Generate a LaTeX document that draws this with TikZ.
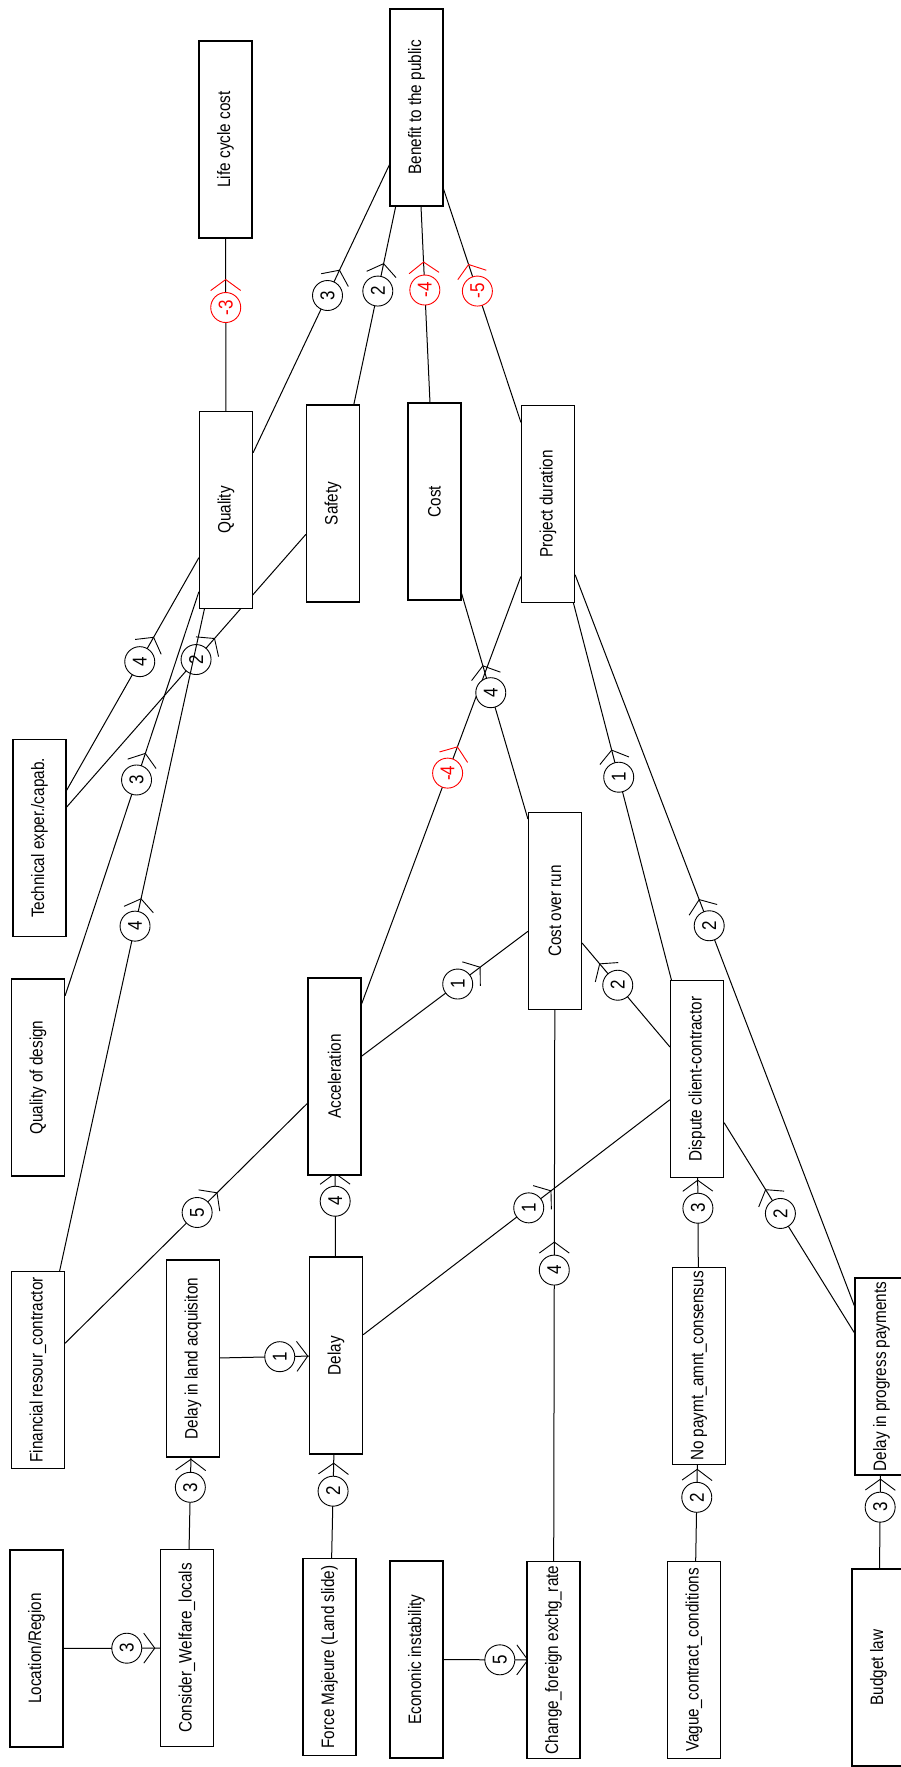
\documentclass[tikz,border=0pt]{standalone}
\usepackage{fontspec}
\newfontfamily\diagfont[FakeStretch=0.85]{Liberation Sans}
\usetikzlibrary{decorations.markings,backgrounds}

\begin{document}
\begin{tikzpicture}[x=1pt,y=-1pt,font=\diagfont\fontsize{18}{21}\selectfont,
  box/.style={draw,line width=1.2pt,fill=white,rotate=90,minimum width=197,minimum height=53,inner sep=0pt},
  num/.style={circle,draw=#1,text=#1,fill=white,line width=0.9pt,rotate=90,minimum size=30,inner sep=0pt,
    font=\diagfont\fontsize{20}{22}\selectfont},
  num/.default=black,
  link/.style n args={3}{line width=1pt,postaction={decorate,decoration={markings,
      mark=at position #1 with {\node[num=#3] {#2}; \draw[#3,line width=0.9pt] (17,15) -- (28,0) -- (17,-15);}}}}]
  \useasboundingbox (0,0) rectangle (901,1767);
  \clip (0,0) rectangle (901,1767);
  \node[box] (lcc) at (225.5,139.5) {Life cycle cost};
  \node[box] (benefit) at (416.5,107.5) {Benefit to the public};
  \node[box] (quality) at (226,510) {Quality};
  \node[box] (safety) at (333,503.5) {Safety};
  \node[box] (cost) at (434.5,501.5) {Cost};
  \node[box] (duration) at (548,504) {Project duration};
  \node[box] (overrun) at (555,911) {Cost over run};
  \node[box] (dispute) at (697,1079) {Dispute client-contractor};
  \node[box] (tech) at (39.5,838) {Technical exper./capab.};
  \node[box] (design) at (38,1077.5) {Quality of design};
  \node[box] (accel) at (334.5,1076.5) {Acceleration};
  \node[box] (finance) at (38,1370) {Financial resour\_contractor};
  \node[box] (land) at (193,1358.5) {Delay in land acquisiton};
  \node[box] (delay) at (336,1355.5) {Delay};
  \node[box] (region) at (36.5,1648.5) {Location/Region};
  \node[box] (welfare) at (187,1648) {Consider\_Welfare\_locals};
  \node[box] (force) at (329.5,1657) {Force Majeure (Land slide)};
  \node[box] (econ) at (416.5,1659.5) {Econonic instability};
  \node[box] (forex) at (553.5,1660) {Change\_foreign exchg\_rate};
  \node[box] (vague) at (694,1660) {Vague\_contract\_conditions};
  \node[box] (nopay) at (699,1366) {No paymt\_amnt\_consensus};
  \node[box] (progress) at (881.5,1376.5) {Delay in progress payments};
  \node[box] (budget) at (878.5,1667.5) {Budget law};
  \begin{scope}[on background layer]
  \draw[link={0.60}{-3}{red}] (quality) -- (lcc);
  \draw[link={0.546}{3}{black}] (quality) -- (benefit);
  \draw[link={0.573}{2}{black}] (safety) -- (benefit);
  \draw[link={0.574}{-4}{red}] (cost) -- (benefit);
  \draw[link={0.563}{-5}{red}] (duration) -- (benefit);
  \draw[link={0.553}{4}{black}] (tech) -- (quality);
  \draw[link={0.541}{2}{black}] (tech) -- (safety);
  \draw[link={0.534}{3}{black}] (design) -- (quality);
  \draw[link={0.521}{4}{black}] (finance) -- (quality);
  \draw[link={0.545}{5}{black}] (finance) -- (accel);
  \draw[link={0.683}{4}{black}] (delay) -- (accel);
  \draw[link={0.54}{-4}{red}] (accel) -- (duration);
  \draw[link={0.578}{1}{black}] (accel) -- (overrun);
  \draw[link={0.56}{4}{black}] (overrun) -- (cost);
  \draw[link={0.594}{2}{black}] (dispute) -- (overrun);
  \draw[link={0.538}{1}{black}] (dispute) -- (duration);
  \draw[link={0.52}{2}{black}] (progress) -- (duration);
  \draw[link={0.54}{1}{black}] (delay) -- (dispute);
  \draw[link={0.528}{4}{black}] (forex) -- (overrun);
  \draw[link={0.568}{2}{black}] (progress) -- (dispute);
  \draw[link={0.661}{3}{black}] (nopay) -- (dispute);
  \draw[link={0.664}{2}{black}] (vague) -- (nopay);
  \draw[link={0.66}{3}{black}] (budget) -- (progress);
  \draw[link={0.679}{5}{black}] (econ) -- (forex);
  \draw[link={0.656}{3}{black}] (region) -- (welfare);
  \draw[link={0.675}{3}{black}] (welfare) -- (land);
  \draw[link={0.646}{2}{black}] (force) -- (delay);
  \draw[link={0.672}{1}{black}] (land) -- (delay);
  \end{scope}
\end{tikzpicture}
\end{document}
